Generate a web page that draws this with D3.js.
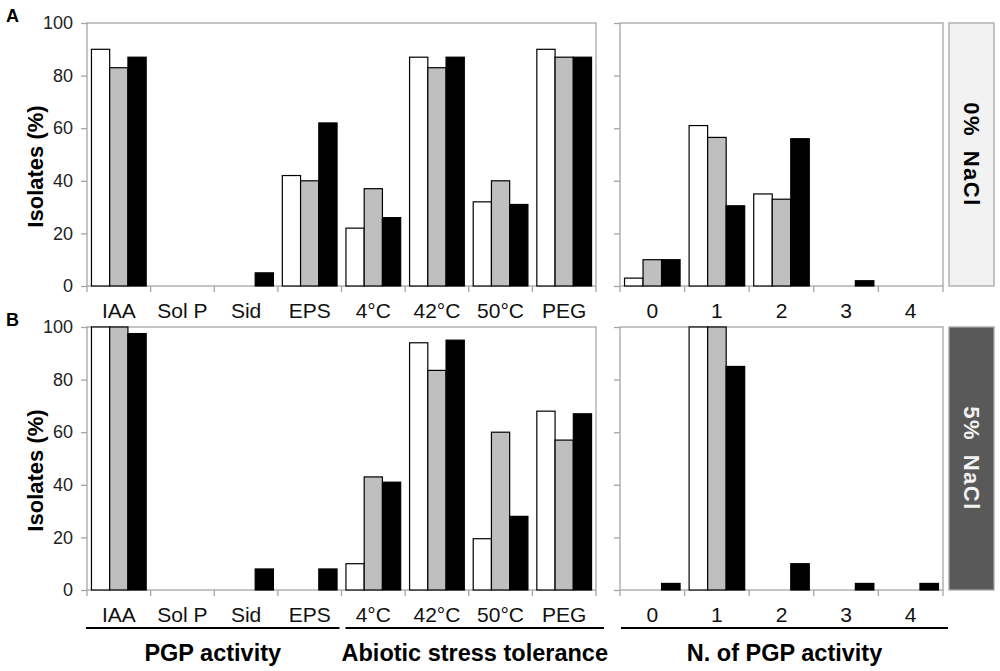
<!DOCTYPE html>
<html>
<head>
<meta charset="utf-8">
<script src="https://cdn.jsdelivr.net/npm/d3@7"></script>
<style>
  body { margin: 0; background: #fff; }
  text { font-family: "Liberation Sans", Arial, sans-serif; }
</style>
</head>
<body>
<div id="graph"></div>
<script>
const width = 1000
const height = 671

// categories
const traits = ['IAA', 'Sol P', 'Sid', 'EPS', '4°C', '42°C', '50°C', 'PEG']
const counts = ['0', '1', '2', '3', '4']
const yTicks = [0, 20, 40, 60, 80, 100]

// 0% NaCl (panel A) - white, grey, black series
const whiteA = [90, 0, 0, 42, 22, 87, 32, 90]
const greyA = [83, 0, 0, 40, 37, 83, 40, 87]
const blackA = [87, 0, 5, 62, 26, 87, 31, 87]
const whiteCountA = [3, 61, 35, 0, 0]
const greyCountA = [10, 56.5, 33, 0, 0]
const blackCountA = [10, 30.5, 56, 2, 0]

// 5% NaCl (panel B)
const whiteB = [100, 0, 0, 0, 10, 94, 19.5, 68]
const greyB = [100, 0, 0, 0, 43, 83.5, 60, 57]
const blackB = [97.5, 0, 8, 8, 41, 95, 28, 67]
const whiteCountB = [0, 100, 0, 0, 0]
const greyCountB = [0, 100, 0, 0, 0]
const blackCountB = [2.5, 85, 10, 2.5, 2.5]

const seriesFill = ['#ffffff', '#bfbfbf', '#000000']
const borderColor = '#a6a6a6'

const svg = d3.select('#graph').append('svg')
  .attr('width', width)
  .attr('height', height)

const left = { x0: 87, x1: 596 }
const right = { x0: 620, x1: 943 }
const strip = { x0: 949, x1: 994 }

const rows = [
  { top: 23, bottom: 286, letter: 'A', strip: '0% NaCl', stripFill: '#f2f2f2', stripText: '#000',
    traits: [whiteA, greyA, blackA], counts: [whiteCountA, greyCountA, blackCountA] },
  { top: 327, bottom: 590, letter: 'B', strip: '5% NaCl', stripFill: '#595959', stripText: '#f2f2f2',
    traits: [whiteB, greyB, blackB], counts: [whiteCountB, greyCountB, blackCountB] }
]

const xTraits = d3.scaleBand().domain(traits).range([left.x0, left.x1])
  .paddingInner(0.14).paddingOuter(0.07)
const xCounts = d3.scaleBand().domain(counts).range([right.x0, right.x1])
  .paddingInner(0.14).paddingOuter(0.07)
const xSeries = d3.scaleBand().domain([0, 1, 2])

const drawPanel = (g, xScale, cats, series, y, x0, x1, withLabels) => {
  // frame
  g.append('rect')
    .attr('x', x0).attr('y', y.range()[1])
    .attr('width', x1 - x0).attr('height', y.range()[0] - y.range()[1])
    .attr('fill', 'none').attr('stroke', borderColor).attr('stroke-width', 1.3)

  const sub = xSeries.copy().range([0, xScale.bandwidth()])
  const bars = []
  series.forEach((vals, s) => {
    vals.forEach((v, i) => bars.push({ cat: cats[i], s: s, v: v }))
  })
  g.selectAll('rect.bar').data(bars.filter(d => d.v > 0)).join('rect')
    .attr('class', 'bar')
    .attr('x', d => xScale(d.cat) + sub(d.s))
    .attr('y', d => y(d.v))
    .attr('width', sub.bandwidth())
    .attr('height', d => y(0) - y(d.v))
    .attr('fill', d => seriesFill[d.s])
    .attr('stroke', '#000')
    .attr('stroke-width', 1.2)

  // y axis ticks
  const yAxis = g.append('g').attr('transform', `translate(${x0},0)`)
    .call(d3.axisLeft(y).tickValues(yTicks).tickSize(6).tickSizeOuter(0)
      .tickFormat(withLabels ? d3.format('d') : ''))
  yAxis.select('.domain').remove()
  yAxis.selectAll('line').attr('stroke', borderColor).attr('stroke-width', 1.3)
  yAxis.selectAll('text').attr('font-size', 18).attr('fill', '#222').attr('x', -14)

  // x ticks at category boundaries
  const step = xScale.step()
  const bounds = d3.range(cats.length + 1).map(i => x0 + i * step)
  g.selectAll('line.xt').data(bounds).join('line')
    .attr('class', 'xt')
    .attr('x1', d => d).attr('x2', d => d)
    .attr('y1', y(0)).attr('y2', y(0) + 6)
    .attr('stroke', borderColor).attr('stroke-width', 1.3)

  // category labels
  g.selectAll('text.cat').data(cats).join('text')
    .attr('class', 'cat')
    .attr('x', d => xScale(d) + xScale.bandwidth() / 2)
    .attr('y', y(0) + 32)
    .attr('text-anchor', 'middle')
    .attr('font-size', 21)
    .attr('fill', '#111')
    .text(d => d)
}

rows.forEach(row => {
  const y = d3.scaleLinear().domain([0, 100]).range([row.bottom, row.top])
  const g = svg.append('g')

  drawPanel(g.append('g'), xTraits, traits, row.traits, y, left.x0, left.x1, true)
  drawPanel(g.append('g'), xCounts, counts, row.counts, y, right.x0, right.x1, false)

  // panel letter
  g.append('text')
    .attr('x', 6).attr('y', row.top - 1)
    .attr('font-size', 18).attr('font-weight', 'bold')
    .text(row.letter)

  // y axis title
  g.append('text')
    .attr('transform', `translate(43,${(row.top + row.bottom) / 2 + 12}) rotate(-90)`)
    .attr('text-anchor', 'middle')
    .attr('font-size', 22).attr('font-weight', 'bold')
    .text('Isolates (%)')

  // strip on the right
  g.append('rect')
    .attr('x', strip.x0).attr('y', row.top)
    .attr('width', strip.x1 - strip.x0).attr('height', row.bottom - row.top)
    .attr('fill', row.stripFill).attr('stroke', borderColor).attr('stroke-width', 1.3)
  g.append('text')
    .attr('transform', `translate(${(strip.x0 + strip.x1) / 2 - 8},${(row.top + row.bottom) / 2}) rotate(90)`)
    .attr('text-anchor', 'middle')
    .attr('font-size', 22).attr('font-weight', 'bold')
    .attr('letter-spacing', 1.5)
    .attr('word-spacing', 6)
    .attr('fill', row.stripText)
    .text(row.strip)
})

// group brackets under the lower panel
const groups = [
  { label: 'PGP activity', x0: 86, x1: xTraits.range()[0] + 4 * xTraits.step() - 2 },
  { label: 'Abiotic stress tolerance', x0: xTraits.range()[0] + 4 * xTraits.step() + 4, x1: 604 },
  { label: 'N. of PGP activity', x0: 621, x1: 948 }
]
svg.selectAll('line.grp').data(groups).join('line')
  .attr('class', 'grp')
  .attr('x1', d => d.x0).attr('x2', d => d.x1)
  .attr('y1', 628).attr('y2', 628)
  .attr('stroke', '#000').attr('stroke-width', 2)
svg.selectAll('text.grp').data(groups).join('text')
  .attr('class', 'grp')
  .attr('x', d => (d.x0 + d.x1) / 2)
  .attr('y', 661)
  .attr('text-anchor', 'middle')
  .attr('font-size', 23.5).attr('font-weight', 'bold')
  .text(d => d.label)
</script>
</body>
</html>
